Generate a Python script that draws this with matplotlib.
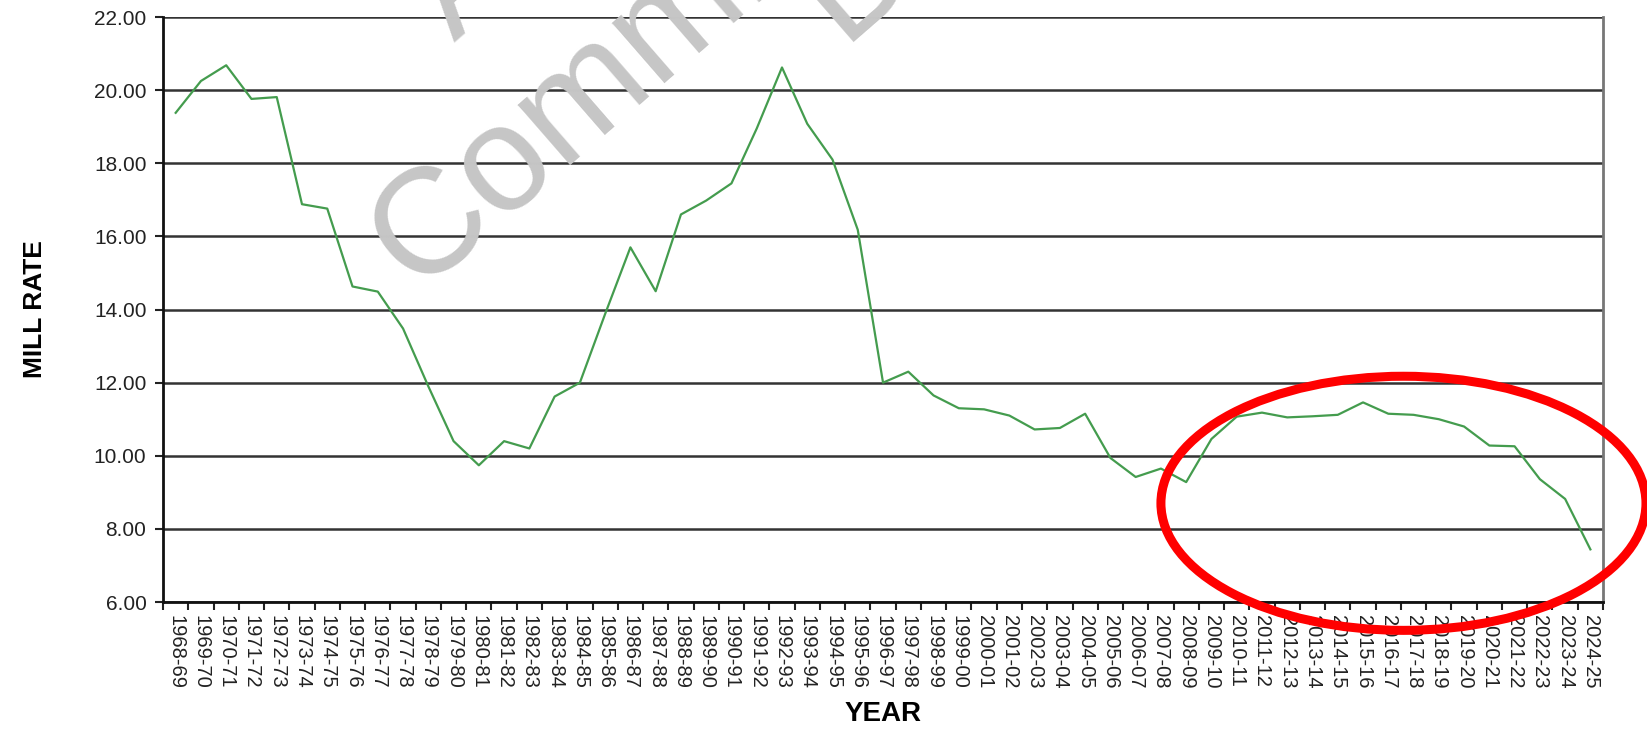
import numpy as np
import matplotlib
matplotlib.use('Agg')
from matplotlib import pyplot as plt
from matplotlib.patches import Ellipse

# fiscal years and mill rate values
years = ['1968-69', '1969-70', '1970-71', '1971-72', '1972-73', '1973-74', '1974-75',
         '1975-76', '1976-77', '1977-78', '1978-79', '1979-80', '1980-81', '1981-82',
         '1982-83', '1983-84', '1984-85', '1985-86', '1986-87', '1987-88', '1988-89',
         '1989-90', '1990-91', '1991-92', '1992-93', '1993-94', '1994-95', '1995-96',
         '1996-97', '1997-98', '1998-99', '1999-00', '2000-01', '2001-02', '2002-03',
         '2003-04', '2004-05', '2005-06', '2006-07', '2007-08', '2008-09', '2009-10',
         '2010-11', '2011-12', '2012-13', '2013-14', '2014-15', '2015-16', '2016-17',
         '2017-18', '2018-19', '2019-20', '2020-21', '2021-22', '2022-23', '2023-24',
         '2024-25']
mill_rate = [19.38, 20.25, 20.68, 19.76, 19.81, 16.88, 16.76, 14.63, 14.49, 13.48,
             11.90, 10.40, 9.74, 10.40, 10.20, 11.62, 12.00, 13.88, 15.70, 14.50,
             16.60, 16.98, 17.45, 18.95, 20.62, 19.08, 18.10, 16.18, 12.00, 12.30,
             11.65, 11.30, 11.27, 11.10, 10.72, 10.76, 11.15, 9.94, 9.42, 9.65,
             9.28, 10.46, 11.07, 11.18, 11.05, 11.08, 11.12, 11.46, 11.15, 11.12,
             11.00, 10.80, 10.28, 10.26, 9.36, 8.82, 7.44]
yticks = np.arange(6, 23, 2)

plt.rcParams['font.family'] = ['Liberation Sans', 'DejaVu Sans']

fig = plt.figure(figsize=(16.47, 7.3), dpi=100)
ax = fig.add_axes([0.099, 0.1753, 0.8743, 0.8014])

x = np.arange(len(years))
ax.plot(x, mill_rate, color='#449c4e', lw=1.6, zorder=3)

ax.set_xlim(-0.5, len(years) - 0.5)
ax.set_ylim(6, 22)
ax.set_yticks(yticks)
ax.set_yticklabels(['%.2f' % v for v in yticks], fontsize=15, color='#222222')
ax.yaxis.grid(True, color='#333333', lw=1.8)
ax.set_axisbelow(True)

ax.set_xticks(x)
ax.set_xticklabels(years, rotation=-90, fontsize=14.5, color='#222222')
ax.tick_params(axis='x', which='major', length=0, pad=9)
ax.set_xticks(np.arange(-0.5, len(years), 1), minor=True)
ax.tick_params(axis='x', which='minor', length=6, width=1.5, color='#222222')
ax.tick_params(axis='y', length=6, width=1.5, color='#222222', pad=6)

for s in ['left', 'bottom']:
    ax.spines[s].set_color('#111111')
    ax.spines[s].set_linewidth(2)
ax.spines['top'].set_visible(False)
ax.spines['right'].set_color('#777777')
ax.spines['right'].set_linewidth(2)

ax.set_ylabel('MILL RATE', fontsize=19, fontweight='bold', labelpad=34)
ax.set_xlabel('YEAR', fontsize=20, fontweight='bold', labelpad=9)

# watermark
wm = dict(color='#c6c6c6', rotation=41, rotation_mode='anchor', ha='left',
          va='baseline', fontsize=108, zorder=0)
fig.text(0.253, 0.600, 'Committee', **wm)
fig.text(0.276, 0.941, 'A', **wm)
fig.text(0.511, 0.942, 'D', **wm)

# red highlight ellipse
ell = Ellipse((48.6, 8.7), 19.2, 6.95, fill=False, ec='#ff0000', lw=6.5,
              clip_on=False, zorder=5)
ax.add_patch(ell)

plt.savefig('out.png', dpi=100)
